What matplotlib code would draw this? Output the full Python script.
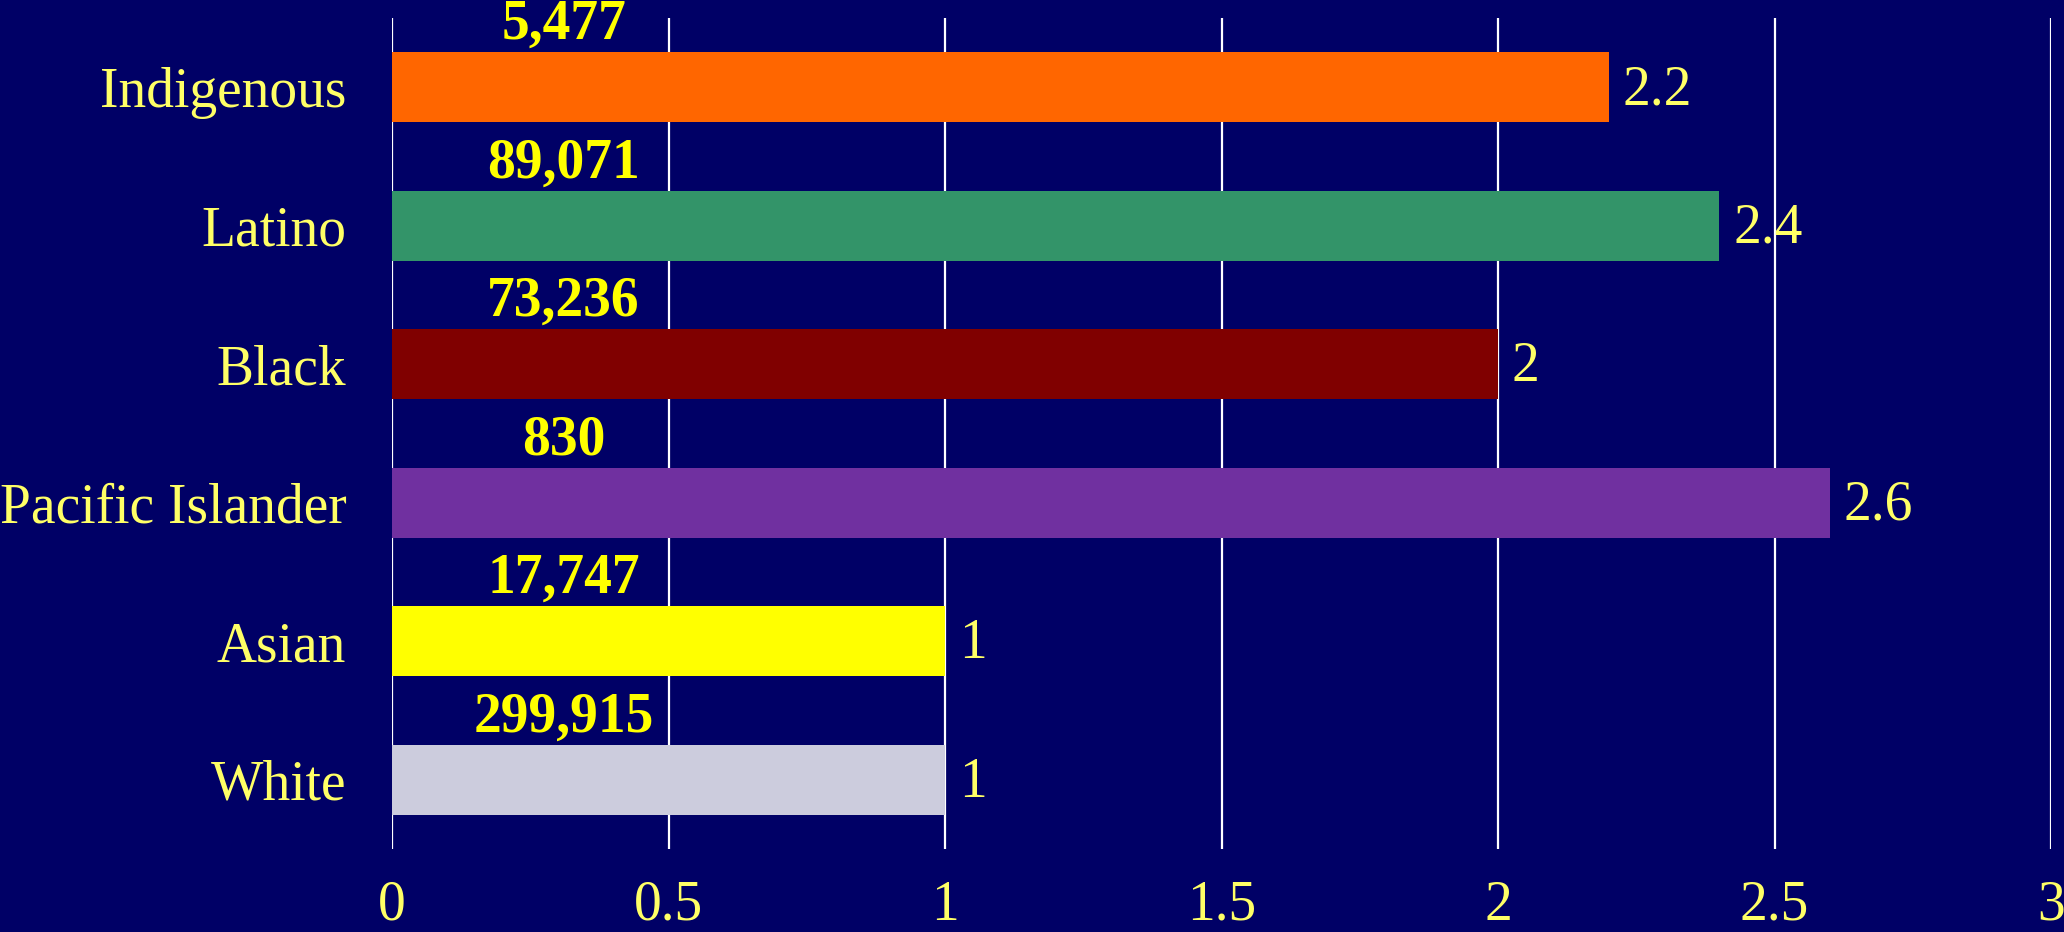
import matplotlib
matplotlib.use("Agg")
from matplotlib import pyplot as plt

groups = ["Indigenous", "Latino", "Black", "Pacific Islander", "Asian", "White"]
ratios = [2.2, 2.4, 2, 2.6, 1, 1]
counts = ["5,477", "89,071", "73,236", "830", "17,747", "299,915"]
colors = ["#FF6600", "#339469", "#800000", "#7030A0", "#FFFF00", "#CCCCDD"]
xticks = [0, 0.5, 1, 1.5, 2, 2.5, 3]
xtick_labels = ["0", "0.5", "1", "1.5", "2", "2.5", "3"]

bg = "#000066"
label_yellow = "#FFFF66"

plt.rcParams["font.family"] = ["Liberation Serif", "DejaVu Serif"]

fig = plt.figure(figsize=(20.64, 9.32), dpi=100, facecolor=bg)
ax = fig.add_axes([0.19, 0.089, 0.8037, 0.8917], facecolor=bg)

pos = list(range(len(groups)))
ax.barh(pos, ratios, height=0.505, color=colors, zorder=3)

ax.set_xlim(0, 3)
ax.set_ylim(len(groups) - 0.5, -0.5)
ax.set_xticks(xticks)
ax.set_xticklabels(xtick_labels)
ax.set_yticks(pos)
ax.set_yticklabels(groups)
ax.tick_params(axis="both", length=0, labelsize=40, colors=label_yellow)
ax.tick_params(axis="x", pad=22)
ax.tick_params(axis="y", pad=33)

ax.grid(axis="x", color="white", linewidth=1.6, zorder=1)
for s in ax.spines.values():
    s.set_visible(False)

for i in pos:
    ax.text(ratios[i] + 0.025, i + 0.02, str(ratios[i]), va="center", ha="left",
            fontsize=40, color=label_yellow, zorder=4)
    ax.text(0.31, i - 0.45, counts[i], va="center", ha="center",
            fontsize=40, fontweight="bold", color="#FFFF00", zorder=4)

fig.savefig("out.png", dpi=100, facecolor=bg)
